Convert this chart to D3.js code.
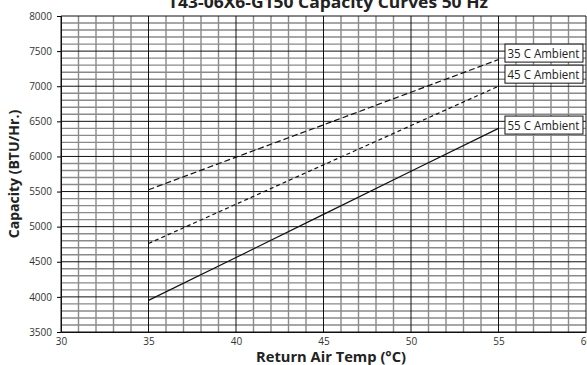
<!DOCTYPE html>
<html><head><meta charset="utf-8">
<script src="https://cdn.jsdelivr.net/npm/d3@7"></script>
<style>
html,body{margin:0;padding:0;background:#fff;}
svg{display:block;}
text{font-family:"Open Sans","DejaVu Sans",sans-serif;}
</style></head>
<body>
<div id="chart"></div>
<script>
const title = "T43-06X6-G150 Capacity Curves 50 Hz";
const xLabel = "Return Air Temp (°C)";
const yLabel = "Capacity (BTU/Hr.)";
const temps = [35, 40, 45, 50, 55];
const amb35 = [5525, 5990, 6450, 6915, 7380];
const amb45 = [4760, 5320, 5880, 6440, 7000];
const amb55 = [3950, 4560, 5175, 5790, 6400];
const seriesNames = ["35 C Ambient", "45 C Ambient", "55 C Ambient"];
const xTicks = [30, 35, 40, 45, 50, 55, 60];
const yTicks = [3500, 4000, 4500, 5000, 5500, 6000, 6500, 7000, 7500, 8000];

const W = 587, H = 365;
const m = {top: 16, right: 1, bottom: 33, left: 61};
const svg = d3.select("#chart").append("svg").attr("width", W).attr("height", H);
const x = d3.scaleLinear().domain([30, 60]).range([m.left, W - m.right]);
const y = d3.scaleLinear().domain([3500, 8000]).range([H - m.bottom, m.top]);

const g = svg.append("g");
// minor grid
const minorX = d3.range(30, 61, 1).filter(v => v % 5 !== 0);
const minorY = d3.range(3500, 8001, 100).filter(v => v % 500 !== 0);
g.selectAll(".mx").data(minorX).join("line")
  .attr("x1", d => x(d)).attr("x2", d => x(d)).attr("y1", y(3500)).attr("y2", y(8000))
  .attr("stroke", "#8a8a8a").attr("stroke-width", 1.4);
g.selectAll(".my").data(minorY).join("line")
  .attr("y1", d => y(d)).attr("y2", d => y(d)).attr("x1", x(30)).attr("x2", x(60))
  .attr("stroke", "#8a8a8a").attr("stroke-width", 1.4);
// major grid
g.selectAll(".Mx").data(xTicks).join("line")
  .attr("x1", d => x(d)).attr("x2", d => x(d)).attr("y1", y(3500)).attr("y2", y(8000))
  .attr("stroke", "#111").attr("stroke-width", 1);
g.selectAll(".My").data(yTicks).join("line")
  .attr("y1", d => y(d)).attr("y2", d => y(d)).attr("x1", x(30)).attr("x2", x(60))
  .attr("stroke", "#111").attr("stroke-width", 1);

// axes
const yAxis = d3.axisLeft(y).tickValues(yTicks).tickFormat(d3.format("d")).tickSize(4).tickPadding(5);
const ya = svg.append("g").attr("transform", `translate(${m.left},0)`).call(yAxis);
ya.select(".domain").attr("stroke", "#111");
ya.selectAll("text").attr("font-size", 10).attr("fill", "#333").attr("font-family", '"Open Sans",sans-serif');
const xAxis = d3.axisBottom(x).tickValues(xTicks).tickSize(0).tickPadding(6);
const xa = svg.append("g").attr("transform", `translate(0,${H - m.bottom})`).call(xAxis);
xa.select(".domain").attr("stroke", "#111");
xa.selectAll("text").attr("font-size", 10).attr("fill", "#333").attr("font-family", '"Open Sans",sans-serif');

// lines
const line = d3.line().x((d, i) => x(temps[i])).y(d => y(d));
const dashes = ["6,3", "4,3", null];
[amb35, amb45, amb55].forEach((s, i) => {
  svg.append("path").datum(s).attr("d", line).attr("fill", "none")
    .attr("stroke", "#111").attr("stroke-width", 1.2)
    .attr("stroke-dasharray", dashes[i]);
});

// labels
const labelY = [7600, 7300, 6575];
seriesNames.forEach((n, i) => {
  const bx = x(55.37), by = y(labelY[i]);
  svg.append("rect").attr("x", bx).attr("y", by).attr("width", 78).attr("height", 18)
    .attr("fill", "#fff").attr("stroke", "#111").attr("stroke-width", 1);
  svg.append("text").attr("x", bx + 2.5).attr("y", by + 13.5).attr("font-size", 12)
    .attr("textLength", 72).attr("lengthAdjust", "spacingAndGlyphs")
    .attr("fill", "#222").text(n);
});

// titles
svg.append("text").attr("x", 328).attr("y", 8).attr("text-anchor", "middle")
  .attr("font-size", 16).attr("font-weight", "bold").attr("fill", "#222")
  .attr("textLength", 320).attr("lengthAdjust", "spacingAndGlyphs").text(title);
svg.append("text").attr("x", 331).attr("y", 362).attr("text-anchor", "middle")
  .attr("font-size", 14).attr("font-weight", "bold").attr("fill", "#222")
  .attr("textLength", 150).attr("lengthAdjust", "spacingAndGlyphs").text(xLabel);
svg.append("text").attr("transform", `translate(19,174) rotate(-90)`).attr("text-anchor", "middle")
  .attr("font-size", 14).attr("font-weight", "bold").attr("fill", "#222").text(yLabel);
</script>
</body></html>
